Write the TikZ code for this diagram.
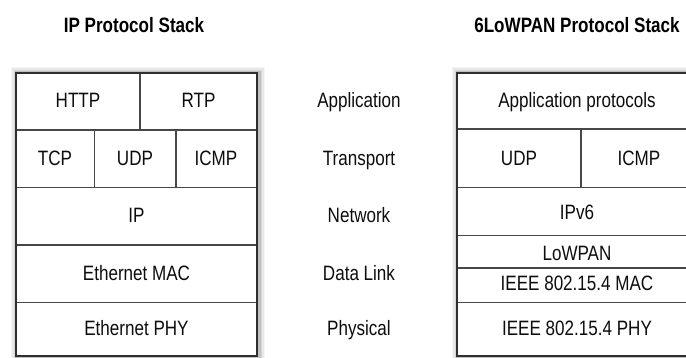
\documentclass[tikz,border=0pt]{standalone}
\usepackage{fontspec}
\setmainfont{Liberation Sans}[FakeStretch=0.82]
\begin{document}
\begin{tikzpicture}[x=1pt,y=-1pt,
  lbl/.style={font=\fontsize{20.8}{24}\selectfont, text=black!95, inner sep=0pt,
              text height=15pt, text depth=0pt, anchor=center},
  ttl/.style={lbl, font=\fontsize{20.8}{24}\selectfont\bfseries, text=black},
  frame/.style={draw=black!82, line width=2pt},
  rule/.style={draw=black!72, line width=1.6pt},
  glow/.style={draw=black, line width=#1}]
\clip (0,0) rectangle (686,358);
\fill[white] (0,0) rectangle (686,358);

% soft shadow behind both stacks
\foreach \w/\o in {14pt/0.04, 11pt/0.05, 8pt/0.07, 5pt/0.1}{
  \draw[glow=\w, opacity=\o] (17.5,74) rectangle (258,357);
  \draw[glow=\w, opacity=\o] (458.5,74) rectangle (698,357);
}

% titles
\node[ttl] (iptitle)  at (134,25) {IP Protocol Stack};
\node[ttl] (lowtitle) at (577,25) {6LoWPAN Protocol Stack};

% IP stack
\fill[white] (16,72.7) rectangle (256.7,356);
\draw[rule] (16,130) -- (256.7,130);
\draw[rule] (16,187.7) -- (256.7,187.7);
\draw[rule] (16,245) -- (256.7,245);
\draw[rule] (16,302.7) -- (256.7,302.7);
\draw[rule] (140,72.7) -- (140,130);
\draw[rule] (94.3,130) -- (94.3,187.7);
\draw[rule] (175.7,130) -- (175.7,187.7);
\draw[frame] (16,72.7) rectangle (256.7,356);

\node[lbl] (http) at (78,100.5) {HTTP};
\node[lbl] (rtp)  at (198.5,100.5) {RTP};
\node[lbl] (tcp)  at (55,158) {TCP};
\node[lbl] (udp)  at (135,158) {UDP};
\node[lbl] (icmp) at (216,158) {ICMP};
\node[lbl] (ip)   at (136.5,215.5) {IP};
\node[lbl] (emac) at (136.5,273.5) {Ethernet MAC};
\node[lbl] (ephy) at (136.5,328) {Ethernet PHY};

% layer names
\node[lbl] (app) at (359,100.5) {Application};
\node[lbl] (trn) at (359,158) {Transport};
\node[lbl] (net) at (359,215.5) {Network};
\node[lbl] (dl)  at (359,273) {Data Link};
\node[lbl] (phy) at (359,327.5) {Physical};

% 6LoWPAN stack
\fill[white] (457,72.7) rectangle (697,356);
\draw[rule] (457,129.3) -- (697,129.3);
\draw[rule] (457,187.7) -- (697,187.7);
\draw[rule] (457,235.7) -- (697,235.7);
\draw[rule] (457,268.3) -- (697,268.3);
\draw[rule] (457,302.7) -- (697,302.7);
\draw[rule] (580.7,129.3) -- (580.7,187.7);
\draw[frame] (457,72.7) rectangle (697,356);

\node[lbl] (apps)  at (577,100.5) {Application protocols};
\node[lbl] (udp6)  at (519,158) {UDP};
\node[lbl] (icmp6) at (639,158) {ICMP};
\node[lbl] (ipv6)  at (577,212.5) {IPv6};
\node[lbl] (lowp)  at (577,253) {LoWPAN};
\node[lbl] (mac)   at (577,283.5) {IEEE 802.15.4 MAC};
\node[lbl] (phy6)  at (577,328) {IEEE 802.15.4 PHY};
\end{tikzpicture}
\end{document}
